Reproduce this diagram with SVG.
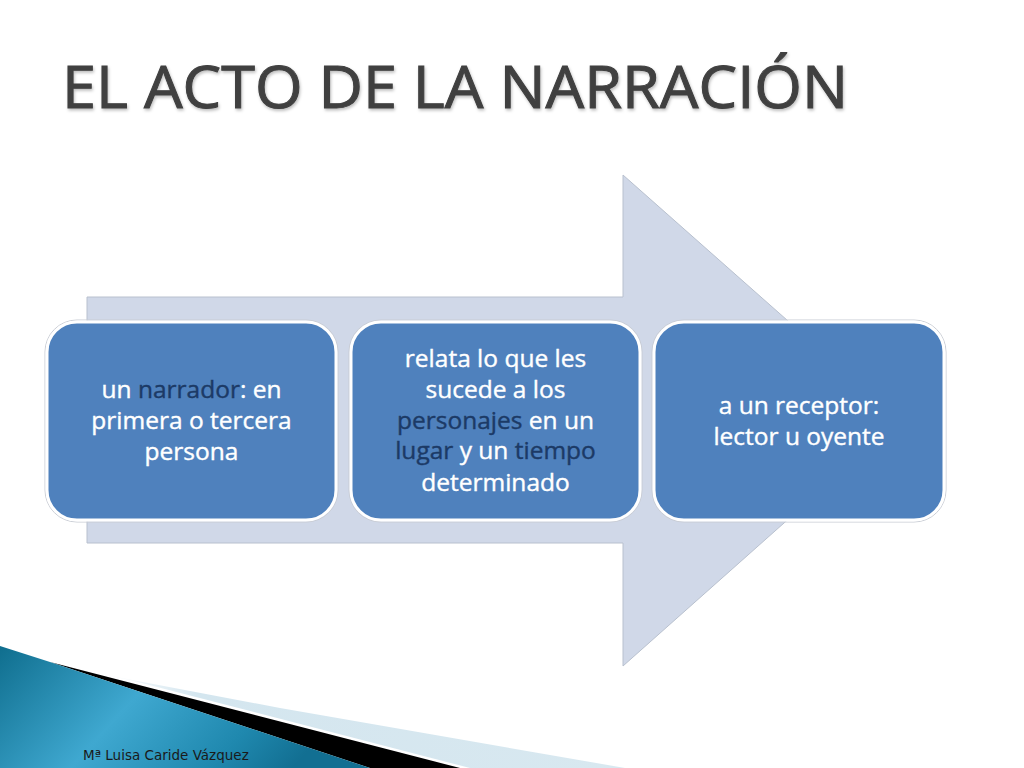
<svg xmlns="http://www.w3.org/2000/svg" width="1024" height="768" viewBox="0 0 1024 768">
<style>
.box{fill:#4F81BD;stroke:#FFFFFF;stroke-width:3}
.boxo{fill:none;stroke:#C8CCD4;stroke-width:1}
.t{font-family:"Open Sans","Liberation Sans",sans-serif;font-size:24.5px;fill:#FFFFFF;stroke:#FFFFFF;stroke-width:0.4;text-anchor:middle}
.d{fill:#1C3A66;stroke:#1C3A66}
</style>
<defs>
<linearGradient id="sw" x1="0" y1="0" x2="1" y2="0.3">
<stop offset="0" stop-color="#0F6E8E"/>
<stop offset="0.45" stop-color="#3FA8D0"/>
<stop offset="0.8" stop-color="#1F88AE"/>
<stop offset="1" stop-color="#126F92"/>
</linearGradient>
<linearGradient id="lb" x1="0" y1="0" x2="1" y2="0">
<stop offset="0" stop-color="#DCEAF2" stop-opacity="0"/>
<stop offset="0.2" stop-color="#D4E6EF"/>
<stop offset="1" stop-color="#D8E8F0"/>
</linearGradient>
<filter id="sh" x="-5%" y="-5%" width="110%" height="120%">
<feDropShadow dx="1" dy="2" stdDeviation="1.5" flood-color="#000" flood-opacity="0.25"/>
</filter>
</defs>
<rect width="1024" height="768" fill="#FFFFFF"/>
<text id="title" x="62" y="108" font-family="Open Sans, Liberation Sans, sans-serif" font-size="59" fill="#404040" stroke="#404040" stroke-width="1" textLength="786" lengthAdjust="spacingAndGlyphs" filter="url(#sh)">EL ACTO DE LA NARRACIÓN</text>
<g id="arrow">
<polygon points="87,297 623,297 623,175 900,420 623,666 623,543 87,543" fill="#D0D8E8" stroke="#B8C0CE" stroke-width="1"/>
</g>
<g id="node1">
<rect x="45" y="320" width="293" height="202" rx="32" class="boxo"/>
<rect x="47" y="322" width="289" height="198" rx="30" class="box"/>
<text class="t" x="191.5" y="398">un <tspan class="d">narrador</tspan>: en</text>
<text class="t" x="191.5" y="429">primera o tercera</text>
<text class="t" x="191.5" y="460">persona</text>
</g>
<g id="node2">
<rect x="349" y="320" width="293" height="202" rx="32" class="boxo"/>
<rect x="351" y="322" width="289" height="198" rx="30" class="box"/>
<text class="t" x="495.5" y="367">relata lo que les</text>
<text class="t" x="495.5" y="398">sucede a los</text>
<text class="t" x="495.5" y="429"><tspan class="d">personajes</tspan> en un</text>
<text class="t" x="495.5" y="459"><tspan class="d">lugar</tspan> y un <tspan class="d">tiempo</tspan></text>
<text class="t" x="495.5" y="491">determinado</text>
</g>
<g id="node3">
<rect x="652" y="320" width="294" height="202" rx="32" class="boxo"/>
<rect x="654" y="322" width="290" height="198" rx="30" class="box"/>
<text class="t" x="799" y="414">a un receptor:</text>
<text class="t" x="799" y="445">lector u oyente</text>
</g>
<g id="connectors"></g>
<g id="footer">
<polygon points="90,672 280,708 625,768 470,768 130,680" fill="url(#lb)"/>
<polygon points="50,662 460,768 370,768" fill="#000000"/>
<polygon points="0,646 50,662 370,768 0,768" fill="url(#sw)"/>
<text x="83" y="760" font-family="DejaVu Sans, sans-serif" font-size="13.5" fill="#1A1A1A">Mª Luisa Caride Vázquez</text>
</g>
</svg>
